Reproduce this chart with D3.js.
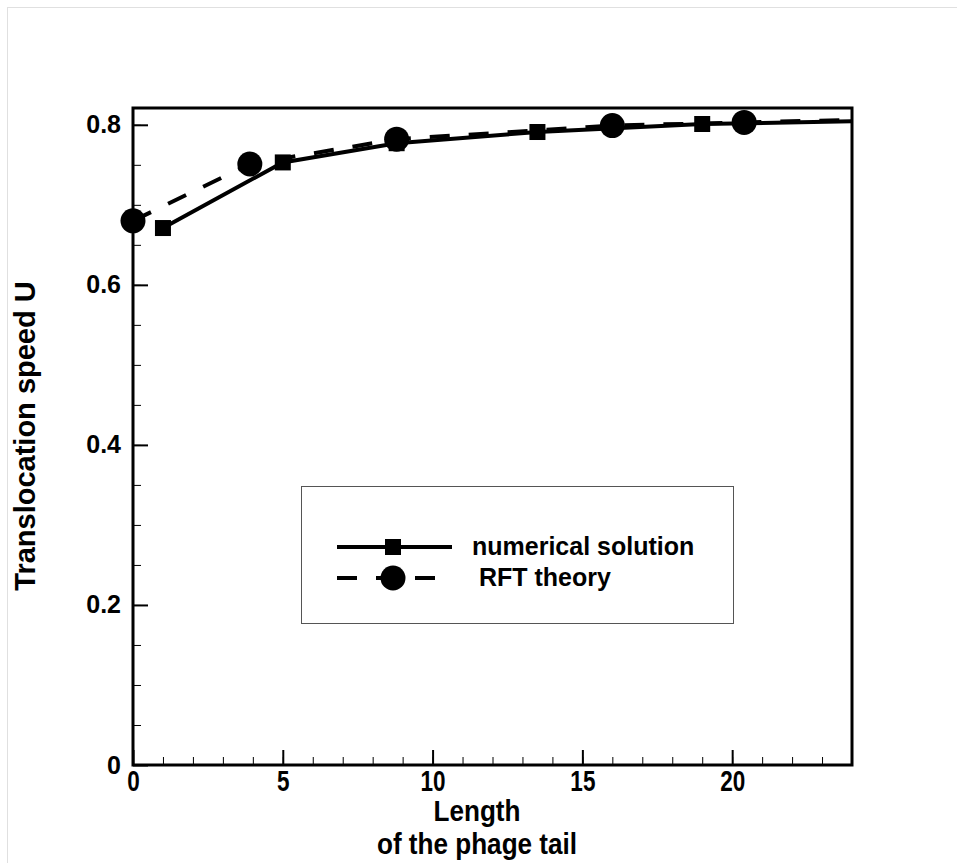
<!DOCTYPE html>
<html>
<head>
<meta charset="utf-8">
<script src="https://cdn.jsdelivr.net/npm/d3@7"></script>
<style>
  body { margin: 0; background: #fff; }
  svg { display: block; font-family: "Liberation Sans", Arial, sans-serif; font-weight: bold; }
</style>
</head>
<body>
<div id="chart"></div>
<script>
// data
var numX = [1, 5, 8.8, 13.5, 19, 25];
var numU = [0.671, 0.753, 0.777, 0.791, 0.801, 0.805];
var rftX = [0, 3.9, 8.8, 16, 20.4, 25];
var rftU = [0.680, 0.751, 0.782, 0.799, 0.803, 0.807];

var xTicks = [0, 5, 10, 15, 20];
var yTicks = [0, 0.2, 0.4, 0.6, 0.8];
var seriesNames = ["numerical solution", " RFT theory"];

var svgWidth = 957;
var svgHeight = 863;

var margin = { top: 108, right: 105, bottom: 98, left: 133 };
var width = svgWidth - margin.left - margin.right;
var height = svgHeight - margin.top - margin.bottom;

var svg = d3.select("#chart")
  .append("svg")
  .attr("width", svgWidth)
  .attr("height", svgHeight);

// faint outer border
svg.append("rect")
  .attr("x", 7.5).attr("y", 7.5)
  .attr("width", svgWidth + 20).attr("height", svgHeight + 20)
  .attr("fill", "none")
  .attr("stroke", "#e0e0e0");

var chartGroup = svg.append("g")
  .attr("transform", `translate(${margin.left}, ${margin.top})`);

var xScale = d3.scaleLinear().domain([0, 24]).range([0, width]);
var yScale = d3.scaleLinear().domain([0, 0.821]).range([height, 0]);

svg.append("defs").append("clipPath").attr("id", "plotClip")
  .append("rect").attr("width", width).attr("height", height);

// minor ticks
var xMinor = d3.axisBottom(xScale).tickValues(d3.range(0, 25, 1)).tickSize(-8).tickFormat("");
var yMinor = d3.axisLeft(yScale).tickValues(d3.range(0, 0.81, 0.05)).tickSize(-8).tickFormat("");

chartGroup.append("g").attr("transform", `translate(0, ${height})`).call(xMinor)
  .call(g => g.select(".domain").remove())
  .selectAll("line").attr("stroke", "#000").attr("stroke-width", 1);
chartGroup.append("g").call(yMinor)
  .call(g => g.select(".domain").remove())
  .selectAll("line").attr("stroke", "#000").attr("stroke-width", 1);

// major ticks
var xAxis = d3.axisBottom(xScale).tickValues(xTicks).tickSize(-15).tickPadding(4).tickFormat(d3.format("d"));
var yAxis = d3.axisLeft(yScale).tickValues(yTicks).tickSize(-15).tickPadding(12).tickFormat(d => d === 0 ? "0" : d3.format(".1f")(d));

var xg = chartGroup.append("g").attr("transform", `translate(0, ${height})`).call(xAxis);
xg.select(".domain").remove();
xg.selectAll("line").attr("stroke", "#000").attr("stroke-width", 2);
// narrow, tall digits like the original
xg.selectAll("text")
  .attr("font-size", 30)
  .attr("font-weight", "bold")
  .attr("font-family", "Liberation Sans, Arial, sans-serif")
  .attr("fill", "#000")
  .attr("dy", "0.72em")
  .attr("transform", "scale(0.75,1)");

var yg = chartGroup.append("g").call(yAxis);
yg.select(".domain").remove();
yg.selectAll("line").attr("stroke", "#000").attr("stroke-width", 2);
yg.selectAll("text")
  .attr("font-size", 25)
  .attr("font-weight", "bold")
  .attr("font-family", "Liberation Sans, Arial, sans-serif")
  .attr("fill", "#000");

// frame
chartGroup.append("rect")
  .attr("width", width).attr("height", height)
  .attr("fill", "none")
  .attr("stroke", "#000")
  .attr("stroke-width", 3);

// lines
var rftLine = d3.line().x(i => xScale(rftX[i])).y(i => yScale(rftU[i]));
var numLine = d3.line().x(i => xScale(numX[i])).y(i => yScale(numU[i]));

var lines = chartGroup.append("g").attr("clip-path", "url(#plotClip)");
lines.append("path")
  .attr("d", rftLine(d3.range(rftX.length)))
  .attr("fill", "none").attr("stroke", "#000")
  .attr("stroke-width", 4)
  .attr("stroke-dasharray", "20,19");
lines.append("path")
  .attr("d", numLine(d3.range(numX.length)))
  .attr("fill", "none").attr("stroke", "#000")
  .attr("stroke-width", 4);

// markers (only inside x range)
chartGroup.selectAll(".sq")
  .data(d3.range(numX.length).filter(i => numX[i] <= 24))
  .enter().append("rect")
  .attr("class", "sq")
  .attr("x", i => xScale(numX[i]) - 8)
  .attr("y", i => yScale(numU[i]) - 8)
  .attr("width", 16).attr("height", 16)
  .attr("fill", "#000");

chartGroup.selectAll(".circ")
  .data(d3.range(rftX.length).filter(i => rftX[i] <= 24))
  .enter().append("circle")
  .attr("class", "circ")
  .attr("cx", i => xScale(rftX[i]))
  .attr("cy", i => yScale(rftU[i]))
  .attr("r", 12.5)
  .attr("fill", "#000");

// axis titles
svg.append("text")
  .attr("transform", "translate(35, 436) rotate(-90)")
  .attr("text-anchor", "middle")
  .attr("font-size", 29)
  .attr("fill", "#000")
  .text("Translocation speed U");

var xTitle = svg.append("g").attr("transform", "translate(477, 0) scale(0.9,1)");
xTitle.append("text")
  .attr("x", 0).attr("y", 821)
  .attr("text-anchor", "middle")
  .attr("font-size", 29)
  .attr("fill", "#000")
  .text("Length");
xTitle.append("text")
  .attr("x", 0).attr("y", 854)
  .attr("text-anchor", "middle")
  .attr("font-size", 29)
  .attr("fill", "#000")
  .text("of the phage tail");

// legend
var legend = svg.append("g");
legend.append("rect")
  .attr("x", 301.5).attr("y", 486.5)
  .attr("width", 432).attr("height", 137)
  .attr("fill", "#fff")
  .attr("stroke", "#555")
  .attr("stroke-width", 1);

var legY = [547, 578];
legend.append("line")
  .attr("x1", 337).attr("x2", 452).attr("y1", legY[0]).attr("y2", legY[0])
  .attr("stroke", "#000").attr("stroke-width", 4);
legend.append("rect")
  .attr("x", 385).attr("y", legY[0] - 8).attr("width", 16).attr("height", 16)
  .attr("fill", "#000");
legend.append("line")
  .attr("x1", 337).attr("x2", 452).attr("y1", legY[1]).attr("y2", legY[1])
  .attr("stroke", "#000").attr("stroke-width", 4)
  .attr("stroke-dasharray", "20,19");
legend.append("circle")
  .attr("cx", 393).attr("cy", legY[1]).attr("r", 12.5)
  .attr("fill", "#000");

legend.selectAll(".legText")
  .data(seriesNames)
  .enter().append("text")
  .attr("class", "legText")
  .attr("x", 472)
  .attr("y", (d, i) => legY[i] + 8)
  .attr("font-size", 25)
  .attr("fill", "#000")
  .style("white-space", "pre")
  .text(d => d);
</script>
</body>
</html>
